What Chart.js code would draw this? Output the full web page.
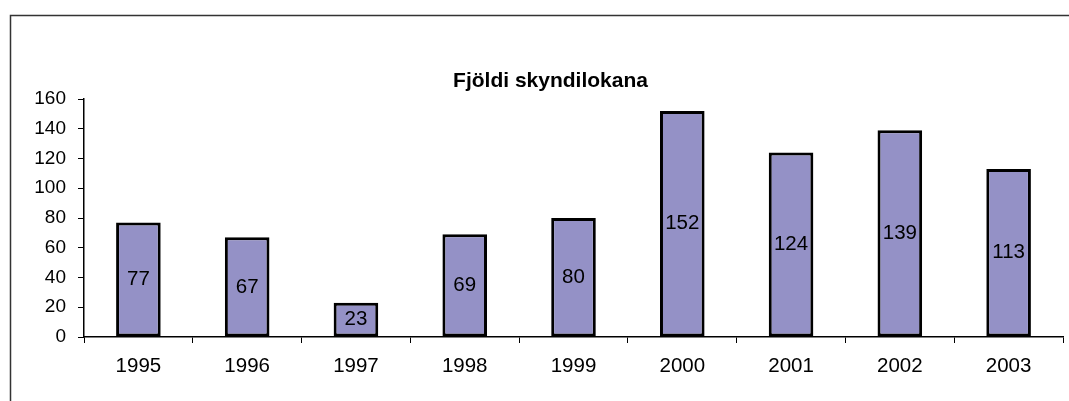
<!DOCTYPE html>
<html>
<head>
<meta charset="utf-8">
<script src="https://cdn.jsdelivr.net/npm/chart.js@4"></script>
<style>
  body { margin: 0; background: #fff; }
  #wrap { width: 1069px; height: 401px; }
</style>
</head>
<body>
<div id="wrap"><canvas id="myChart"></canvas></div>
<script>
// data
var titill = 'Fjöldi skyndilokana'
var ar = ['1995', '1996', '1997', '1998', '1999', '2000', '2001', '2002', '2003']
var fjoldi = [77, 67, 23, 69, 80, 152, 124, 139, 113]
var yTicks = [0, 20, 40, 60, 80, 100, 120, 140, 160]

var letur = "'Liberation Sans', Arial, sans-serif"

// frame, title and the numbers inside the bars
var extras = {
  id: 'extras',
  afterDraw: function(chart) {
    var ctx = chart.ctx
    ctx.save()
    ctx.strokeStyle = '#333'
    ctx.lineWidth = 1.5
    ctx.beginPath()
    ctx.moveTo(10.5, 420)
    ctx.lineTo(10.5, 15.5)
    ctx.lineTo(1100, 15.5)
    ctx.stroke()

    ctx.fillStyle = '#000'
    ctx.font = 'bold 21px ' + letur
    ctx.textAlign = 'center'
    ctx.textBaseline = 'alphabetic'
    ctx.fillText(titill, 550.5, 86.5)

    ctx.font = '20.5px ' + letur
    ctx.textBaseline = 'middle'
    var meta = chart.getDatasetMeta(0)
    meta.data.forEach(function(bar, i) {
      var midY = (bar.y + bar.base) / 2
      ctx.fillText(String(fjoldi[i]), bar.x, midY)
    })
    ctx.restore()
  }
}

const ctx = document.getElementById('myChart')

new Chart(ctx, {
  type: 'bar',
  data: {
    labels: ar,
    datasets: [{
      label: titill,
      data: fjoldi,
      backgroundColor: '#9491c6',
      borderColor: '#000',
      borderWidth: 3,
      borderSkipped: false,
      categoryPercentage: 1,
      barPercentage: 0.41
    }]
  },
  options: {
    responsive: true,
    maintainAspectRatio: false,
    animation: false,
    layout: { padding: { left: 0, right: 6, top: 99, bottom: 0 } },
    plugins: {
      legend: { display: false },
      title: { display: false },
      tooltip: { enabled: false }
    },
    scales: {
      x: {
        grid: {
          offset: true,
          drawOnChartArea: false,
          color: '#000',
          tickLength: 6,
          tickColor: '#000'
        },
        border: { color: '#000', width: 1.5 },
        ticks: {
          color: '#000',
          font: { family: letur, size: 20.5 },
          padding: 11,
          maxRotation: 0
        },
        afterFit: function(scale) { scale.height = 64 }
      },
      y: {
        min: 0,
        max: 160,
        afterBuildTicks: function(scale) {
          scale.ticks = yTicks.map(function(v) { return { value: v } })
        },
        grid: {
          drawOnChartArea: false,
          tickLength: 6,
          tickColor: '#000'
        },
        border: { color: '#000', width: 1.5 },
        ticks: {
          color: '#000',
          font: { family: letur, size: 19 },
          padding: 12
        },
        afterFit: function(scale) { scale.width = 84 }
      }
    }
  },
  plugins: [extras]
})
</script>
</body>
</html>
